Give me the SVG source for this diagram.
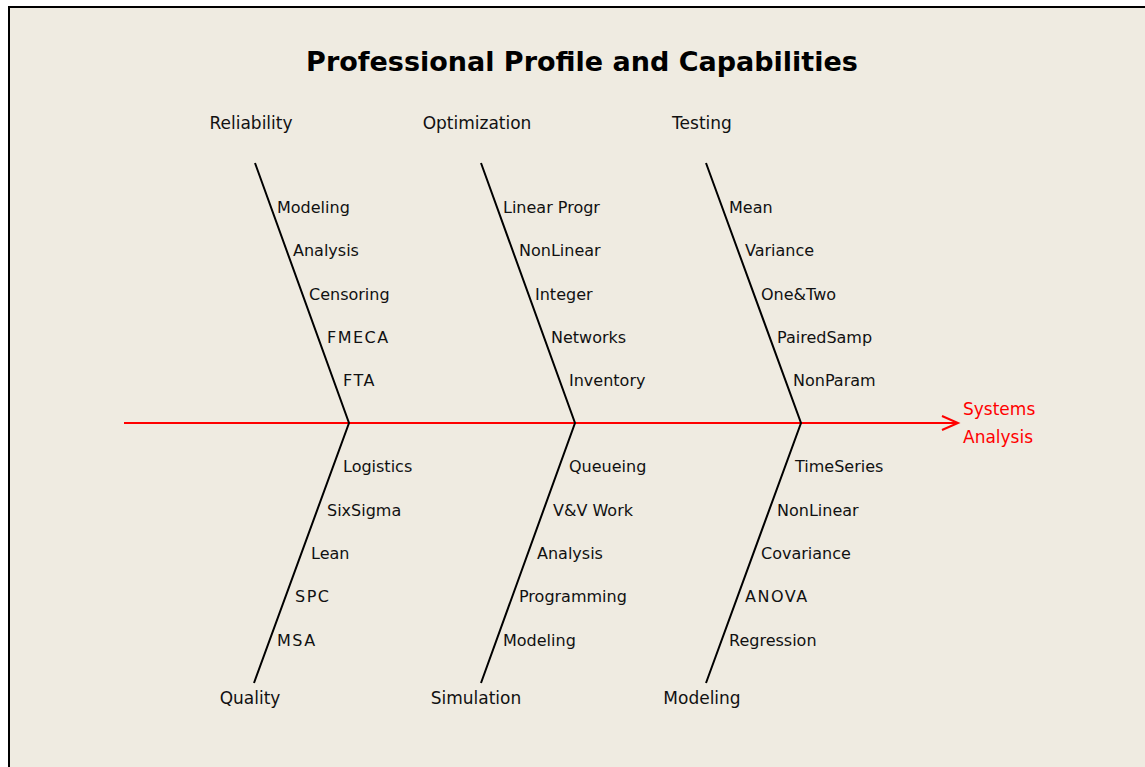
<svg xmlns="http://www.w3.org/2000/svg" width="1145" height="767" viewBox="0 0 1145 767">
<style>
.item{font-family:"DejaVu Sans",Verdana,sans-serif;font-size:16px;fill:#111}
.cat{font-family:"DejaVu Sans",Verdana,sans-serif;font-size:17px;fill:#111;text-anchor:middle}
.bone{stroke:#000;stroke-width:2;fill:none}
.spine{stroke:#ff0000;stroke-width:2;fill:none}
.title{font-family:"DejaVu Sans",Verdana,sans-serif;font-size:27px;font-weight:bold;fill:#000;text-anchor:middle}
.effect{font-family:"DejaVu Sans",Verdana,sans-serif;font-size:17px;fill:#ff0000}
</style>
<rect x="0" y="0" width="1145" height="767" fill="#ffffff"/>
<rect x="9" y="7" width="1150" height="780" fill="#efebe1" stroke="#000" stroke-width="2"/>
<text class="title" x="582" y="71">Professional Profile and Capabilities</text>
<g id="connectors">
<line class="spine" x1="124" y1="423" x2="958" y2="423"/>
<polyline class="spine" points="942,416 958,423 942,430"/>
<polyline class="bone" points="255,163 349,423 254,683"/>
<polyline class="bone" points="481,163 575,423 481,683"/>
<polyline class="bone" points="706,163 801,423 706,683"/>
</g>
<g id="effect"><text class="effect" x="963" y="415">Systems</text><text class="effect" x="963" y="443">Analysis</text></g>
<g id="reliability">
<text class="cat" x="251" y="129">Reliability</text>
<text class="item" x="277" y="213">Modeling</text>
<text class="item" x="293" y="256">Analysis</text>
<text class="item" x="309" y="300">Censoring</text>
<text class="item" x="327" y="343" letter-spacing="1.5">FMECA</text>
<text class="item" x="343" y="386" letter-spacing="1.5">FTA</text>
</g>
<g id="quality">
<text class="cat" x="250" y="704">Quality</text>
<text class="item" x="343" y="472">Logistics</text>
<text class="item" x="327" y="516">SixSigma</text>
<text class="item" x="311" y="559">Lean</text>
<text class="item" x="295" y="602" letter-spacing="1.5">SPC</text>
<text class="item" x="277" y="646" letter-spacing="1.5">MSA</text>
</g>
<g id="optimization">
<text class="cat" x="477" y="129">Optimization</text>
<text class="item" x="503" y="213">Linear Progr</text>
<text class="item" x="519" y="256">NonLinear</text>
<text class="item" x="535" y="300">Integer</text>
<text class="item" x="551" y="343">Networks</text>
<text class="item" x="569" y="386">Inventory</text>
</g>
<g id="simulation">
<text class="cat" x="476" y="704">Simulation</text>
<text class="item" x="569" y="472">Queueing</text>
<text class="item" x="553" y="516">V&amp;V Work</text>
<text class="item" x="537" y="559">Analysis</text>
<text class="item" x="519" y="602">Programming</text>
<text class="item" x="503" y="646">Modeling</text>
</g>
<g id="testing">
<text class="cat" x="702" y="129">Testing</text>
<text class="item" x="729" y="213">Mean</text>
<text class="item" x="745" y="256">Variance</text>
<text class="item" x="761" y="300">One&amp;Two</text>
<text class="item" x="777" y="343">PairedSamp</text>
<text class="item" x="793" y="386">NonParam</text>
</g>
<g id="modeling">
<text class="cat" x="702" y="704">Modeling</text>
<text class="item" x="795" y="472">TimeSeries</text>
<text class="item" x="777" y="516">NonLinear</text>
<text class="item" x="761" y="559">Covariance</text>
<text class="item" x="745" y="602" letter-spacing="1.5">ANOVA</text>
<text class="item" x="729" y="646">Regression</text>
</g>
</svg>
